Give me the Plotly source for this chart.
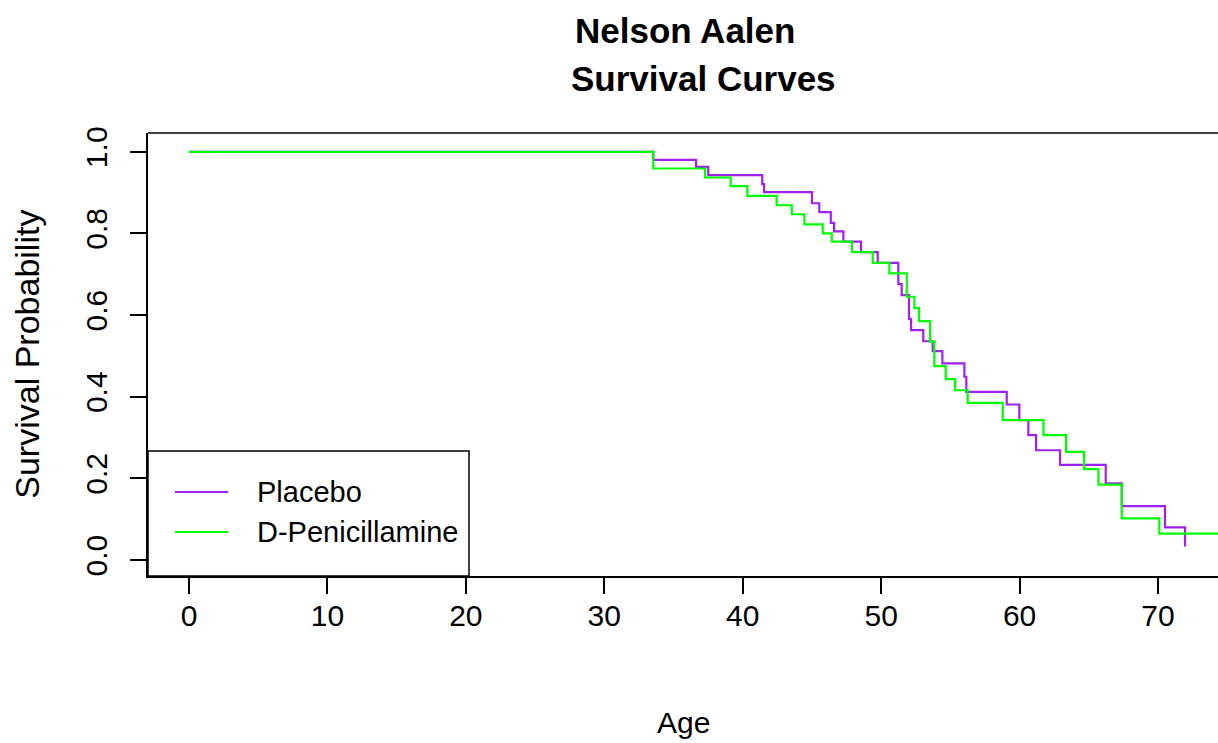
import plotly.graph_objects as go

# ---- data ----
placebo_age = [0, 33.54, 36.63, 37.51, 41.41, 41.54, 45.00, 45.53, 46.36, 46.60, 47.27,
               48.54, 49.75, 51.24, 51.48, 52.01, 52.16, 53.04, 53.72, 54.42, 56.01,
               56.15, 59.07, 59.98, 60.63, 61.19, 62.92, 66.22, 67.38, 70.50, 71.95]
placebo_surv = [1.0, 0.980, 0.963, 0.943, 0.921, 0.901, 0.874, 0.852, 0.826, 0.805, 0.780,
                0.754, 0.728, 0.676, 0.649, 0.590, 0.563, 0.536, 0.512, 0.482, 0.449,
                0.412, 0.381, 0.343, 0.306, 0.269, 0.233, 0.188, 0.132, 0.080, 0.033]

dpen_age = [0, 33.54, 37.28, 39.13, 40.33, 42.45, 43.54, 44.45, 45.78, 46.43, 47.89,
            49.39, 50.59, 51.85, 52.40, 52.73, 53.53, 53.84, 54.66, 55.34, 56.25,
            58.78, 61.72, 63.35, 64.65, 65.69, 67.38, 70.09, 74.50]
dpen_surv = [1.0, 0.959, 0.937, 0.916, 0.892, 0.869, 0.847, 0.822, 0.800, 0.780, 0.754,
             0.728, 0.702, 0.645, 0.617, 0.585, 0.535, 0.475, 0.443, 0.416, 0.385,
             0.343, 0.306, 0.265, 0.223, 0.185, 0.102, 0.065, 0.065]

series_names = ["Placebo", "D-Penicillamine"]
series_colors = ["#a020f0", "#00ff00"]

x_ticks = [0, 10, 20, 30, 40, 50, 60, 70]
y_ticks = [0.0, 0.2, 0.4, 0.6, 0.8, 1.0]

FONT = "Liberation Sans, Arial, sans-serif"

fig = go.Figure()
fig.add_trace(go.Scatter(x=placebo_age, y=placebo_surv, mode="lines", line_shape="hv",
                         name=series_names[0], line=dict(color=series_colors[0], width=2.2)))
fig.add_trace(go.Scatter(x=dpen_age, y=dpen_surv, mode="lines", line_shape="hv",
                         name=series_names[1], line=dict(color=series_colors[1], width=2.2)))

fig.update_layout(
    width=1218, height=743,
    margin=dict(l=148, r=0, t=133, b=167),
    paper_bgcolor="white", plot_bgcolor="white",
    showlegend=False,
    font=dict(family=FONT, color="black", size=29),
)
fig.update_xaxes(range=[-2.96, 74.33], tickvals=x_ticks, ticks="outside", ticklen=16,
                 tickwidth=1.5, tickcolor="black", showline=True, linecolor="black",
                 linewidth=1.5, showgrid=False, zeroline=False, ticklabelstandoff=-4,
                 tickfont=dict(size=30, family=FONT))
fig.update_yaxes(range=[-0.039, 1.046], tickvals=y_ticks, tickformat=".1f",
                 ticks="outside", ticklen=16, tickwidth=1.5, tickcolor="black",
                 showline=True, linecolor="black", linewidth=1.5, showgrid=False,
                 zeroline=False, tickangle=-90, ticklabelstandoff=11,
                 tickfont=dict(size=30, family=FONT))

# top border of the plot box
fig.add_shape(type="line", xref="paper", yref="paper", x0=0, x1=1, y0=1, y1=1,
              line=dict(color="black", width=1.5))

# titles
fig.add_annotation(text="<b>Nelson Aalen</b>", xref="paper", yref="paper", x=0.502, y=1.2325,
                   xanchor="center", yanchor="middle", showarrow=False,
                   font=dict(size=35, family=FONT))
fig.add_annotation(text="<b>Survival Curves</b>", xref="paper", yref="paper", x=0.519, y=1.124,
                   xanchor="center", yanchor="middle", showarrow=False,
                   font=dict(size=35, family=FONT))
fig.add_annotation(text="Age", xref="paper", yref="paper", x=0.50, y=-0.3296,
                   xanchor="center", yanchor="middle", showarrow=False,
                   font=dict(size=30, family=FONT))
fig.add_annotation(text="Survival Probability", xref="paper", yref="paper", x=-0.1134, y=0.501,
                   xanchor="center", yanchor="middle", showarrow=False, textangle=-90,
                   font=dict(size=34, family=FONT))

# legend box
fig.add_shape(type="rect", xref="paper", yref="paper", x0=0, x1=0.3, y0=0, y1=0.2822,
              line=dict(color="black", width=1.5), fillcolor="white", layer="above")
legend_y = [0.1896, 0.0993]
for name, color, ly in zip(series_names, series_colors, legend_y):
    fig.add_shape(type="line", xref="paper", yref="paper", x0=0.0252, x1=0.0748, y0=ly, y1=ly,
                  line=dict(color=color, width=2), layer="above")
    fig.add_annotation(text=name, xref="paper", yref="paper", x=0.100, y=ly,
                       xanchor="left", yanchor="middle", showarrow=False,
                       font=dict(size=29, family=FONT))

fig.write_html("out.html")
